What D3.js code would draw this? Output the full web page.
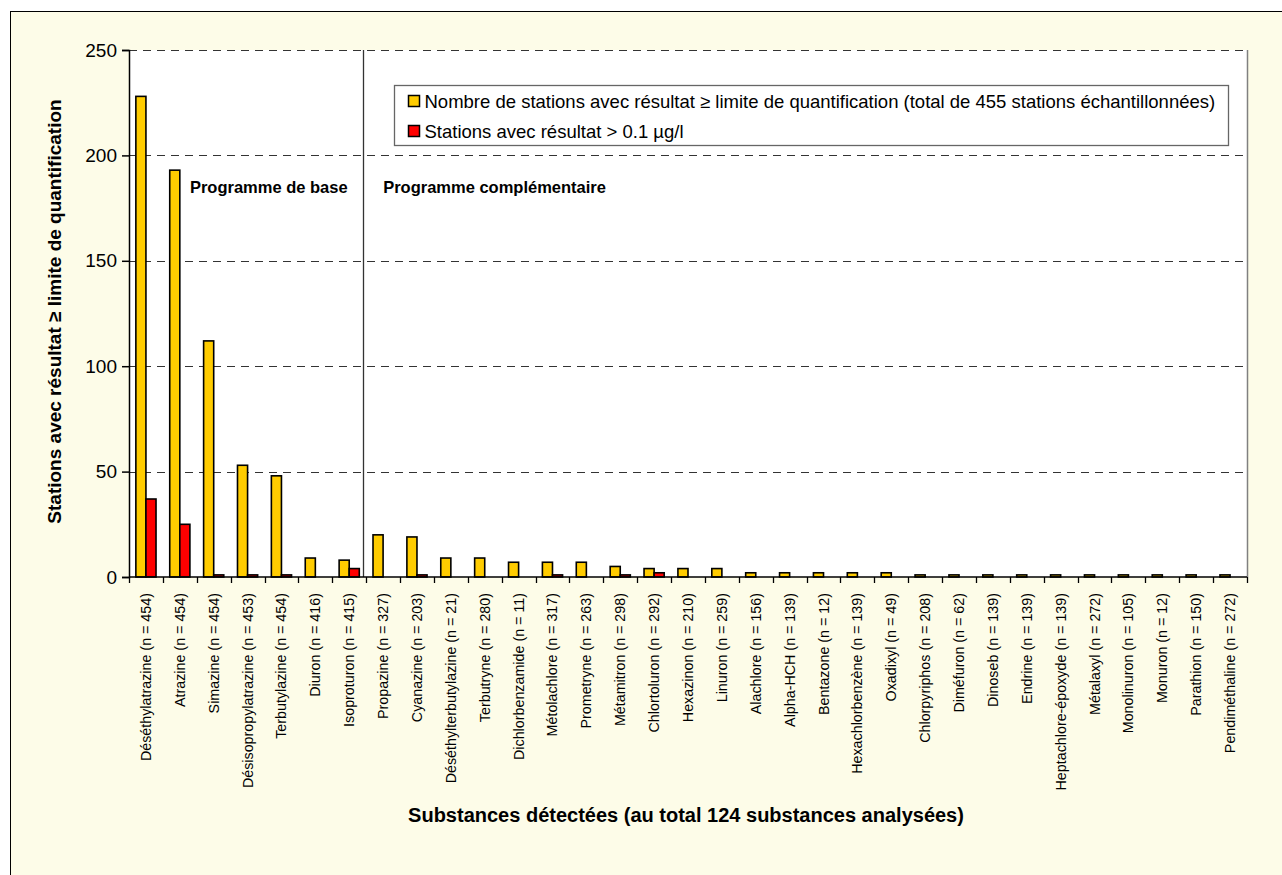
<!DOCTYPE html>
<html>
<head>
<meta charset="utf-8">
<script src="https://cdn.jsdelivr.net/npm/d3@7"></script>
<style>
    body { margin: 0; background: #fff; font-family: "Liberation Sans", Arial, sans-serif; }
    .axis text { font-family: "Liberation Sans", Arial, sans-serif; }
</style>
</head>
<body>
<div id="chart"></div>
<script>
// substances + number of stations (n)
let substances = ["Déséthylatrazine", "Atrazine", "Simazine", "Désisopropylatrazine", "Terbutylazine",
    "Diuron", "Isoproturon", "Propazine", "Cyanazine", "Déséthylterbutylazine", "Terbutryne",
    "Dichlorbenzamide", "Métolachlore", "Prometryne", "Métamitron", "Chlortoluron", "Hexazinon",
    "Linuron", "Alachlore", "Alpha-HCH", "Bentazone", "Hexachlorbenzène", "Oxadixyl",
    "Chlorpyriphos", "Diméfuron", "Dinoseb", "Endrine", "Heptachlore-époxyde", "Métalaxyl",
    "Monolinuron", "Monuron", "Parathion", "Pendiméthaline"];
let nStations = [454, 454, 454, 453, 454, 416, 415, 327, 203, 21, 280, 11, 317, 263, 298, 292, 210,
    259, 156, 139, 12, 139, 49, 208, 62, 139, 139, 139, 272, 105, 12, 150, 272];

// stations with result >= limit of quantification
let quantified = [228, 193, 112, 53, 48, 9, 8, 20, 19, 9, 9, 7, 7, 7, 5, 4, 4, 4, 2, 2, 2, 2, 2,
    1, 1, 1, 1, 1, 1, 1, 1, 1, 1];
// stations with result > 0.1 ug/l
let above01 = [37, 25, 1, 1, 1, 0, 4, 0, 1, 0, 0, 0, 1, 0, 1, 2, 0, 0, 0, 0, 0, 0, 0,
    0, 0, 0, 0, 0, 0, 0, 0, 0, 0];

let yTicks = [0, 50, 100, 150, 200, 250];
let seriesNames = ["Nombre de stations avec résultat ≥ limite de quantification (total de 455 stations échantillonnées)",
    "Stations avec résultat > 0.1 µg/l"];
let seriesColors = ["#FFCC00", "#FF0000"];

let data = substances.map((s, i) => ({
    label: s + " (n = " + nStations[i] + ")",
    key: s,
    values: [quantified[i], above01[i]]
}));

let width = 1282, height = 875;
let margin = {top: 50, right: 35, bottom: 298, left: 129};
let w = width - margin.left - margin.right;
let h = height - margin.top - margin.bottom;

let svg = d3.select("#chart").append("svg")
    .attr("width", width)
    .attr("height", height);

// outer chart area
svg.append("rect")
    .attr("x", 10.5).attr("y", 11.5)
    .attr("width", width + 20).attr("height", height + 20)
    .attr("fill", "#FDFCE8")
    .attr("stroke", "#000")
    .attr("stroke-width", 1);

let g = svg.append("g")
    .attr("transform", `translate(${margin.left}, ${margin.top})`);

// scales
let x = d3.scaleBand()
    .domain(substances)
    .range([0, w]);

let xSub = d3.scaleBand()
    .domain([0, 1])
    .range([0, x.bandwidth()])
    .paddingInner(0)
    .paddingOuter(0.68);

let y = d3.scaleLinear()
    .domain([0, 250])
    .range([h, 0]);

// plot area
g.append("rect")
    .attr("x", 0).attr("y", 0)
    .attr("width", w).attr("height", h)
    .attr("fill", "#fff");

g.append("line")
    .attr("x1", w + 0.5).attr("x2", w + 0.5)
    .attr("y1", 0).attr("y2", h)
    .attr("stroke", "#808080")
    .attr("stroke-width", 1.5);

// grid lines
g.selectAll(".grid")
    .data(yTicks.filter(d => d > 0))
    .enter().append("line")
    .attr("class", "grid")
    .attr("x1", 0).attr("x2", w)
    .attr("y1", d => Math.round(y(d)) + 0.5)
    .attr("y2", d => Math.round(y(d)) + 0.5)
    .attr("stroke", "#333")
    .attr("stroke-width", 1)
    .attr("stroke-dasharray", "8,6");

// separator between the two programmes
let sepX = Math.round(x("Propazine")) - 2.5;
g.append("line")
    .attr("x1", sepX).attr("x2", sepX)
    .attr("y1", 0).attr("y2", h)
    .attr("stroke", "#333")
    .attr("stroke-width", 1.3);

g.append("text")
    .attr("x", x("Atrazine") + 27)
    .attr("y", y(182))
    .attr("font-size", 16.5)
    .attr("font-weight", "bold")
    .text("Programme de base");

g.append("text")
    .attr("x", x("Propazine") + 17)
    .attr("y", y(182))
    .attr("font-size", 16.5)
    .attr("font-weight", "bold")
    .text("Programme complémentaire");

// bars
let groups = g.selectAll(".group")
    .data(data)
    .enter().append("g")
    .attr("class", "group")
    .attr("transform", d => `translate(${x(d.key)}, 0)`);

groups.selectAll("rect")
    .data(d => d.values.map((v, i) => ({i: i, v: v})))
    .enter().append("rect")
    .filter(d => d.v > 0)
    .attr("x", d => xSub(d.i))
    .attr("y", d => y(d.v))
    .attr("width", xSub.bandwidth())
    .attr("height", d => h - y(d.v))
    .attr("fill", d => seriesColors[d.i])
    .attr("stroke", "#000")
    .attr("stroke-width", 1.6);

// axes
let yAxis = d3.axisLeft(y)
    .tickValues(yTicks)
    .tickSize(7)
    .tickPadding(5);

g.append("g")
    .attr("class", "y-axis axis")
    .call(yAxis)
    .call(a => a.select(".domain").attr("stroke-width", 1.5))
    .call(a => a.selectAll("line").attr("stroke-width", 1.5))
    .selectAll("text")
    .attr("font-size", 19)
    .attr("fill", "#000");

// x axis with ticks at category boundaries
let xAxisG = g.append("g")
    .attr("class", "x-axis axis")
    .attr("transform", `translate(0, ${h})`);

xAxisG.append("line")
    .attr("x1", 0).attr("x2", w)
    .attr("stroke", "#000").attr("stroke-width", 1.5);

xAxisG.selectAll(".tick-b")
    .data(d3.range(substances.length + 1))
    .enter().append("line")
    .attr("class", "tick-b")
    .attr("x1", i => Math.round(i * x.step()) + 0.5)
    .attr("x2", i => Math.round(i * x.step()) + 0.5)
    .attr("y1", 0).attr("y2", 6)
    .attr("stroke", "#000").attr("stroke-width", 1.3);

xAxisG.selectAll(".xlab")
    .data(data)
    .enter().append("text")
    .attr("class", "xlab")
    .attr("transform", d => `translate(${x(d.key) + x.bandwidth() / 2 + 5}, 16) rotate(-90)`)
    .attr("text-anchor", "end")
    .attr("font-size", 14.3)
    .text(d => d.label);

// axis titles
svg.append("text")
    .attr("transform", `translate(61, ${margin.top + h / 2 - 2}) rotate(-90)`)
    .attr("text-anchor", "middle")
    .attr("font-size", 19)
    .attr("font-weight", "bold")
    .text("Stations avec résultat ≥ limite de quantification");

svg.append("text")
    .attr("x", 686)
    .attr("y", 822)
    .attr("text-anchor", "middle")
    .attr("font-size", 20)
    .attr("font-weight", "bold")
    .text("Substances détectées (au total 124 substances analysées)");

// legend
let legend = svg.append("g")
    .attr("transform", "translate(394.5, 85.5)");

legend.append("rect")
    .attr("width", 834).attr("height", 60)
    .attr("fill", "#fff")
    .attr("stroke", "#666")
    .attr("stroke-width", 1.3);

seriesNames.forEach((name, i) => {
    legend.append("rect")
        .attr("x", 14).attr("y", 10 + i * 30)
        .attr("width", 11).attr("height", 11)
        .attr("fill", seriesColors[i])
        .attr("stroke", "#000")
        .attr("stroke-width", 1.5);
    legend.append("text")
        .attr("x", 30).attr("y", 22 + i * 30)
        .attr("font-size", 18.5)
        .text(name);
});
</script>
</body>
</html>
